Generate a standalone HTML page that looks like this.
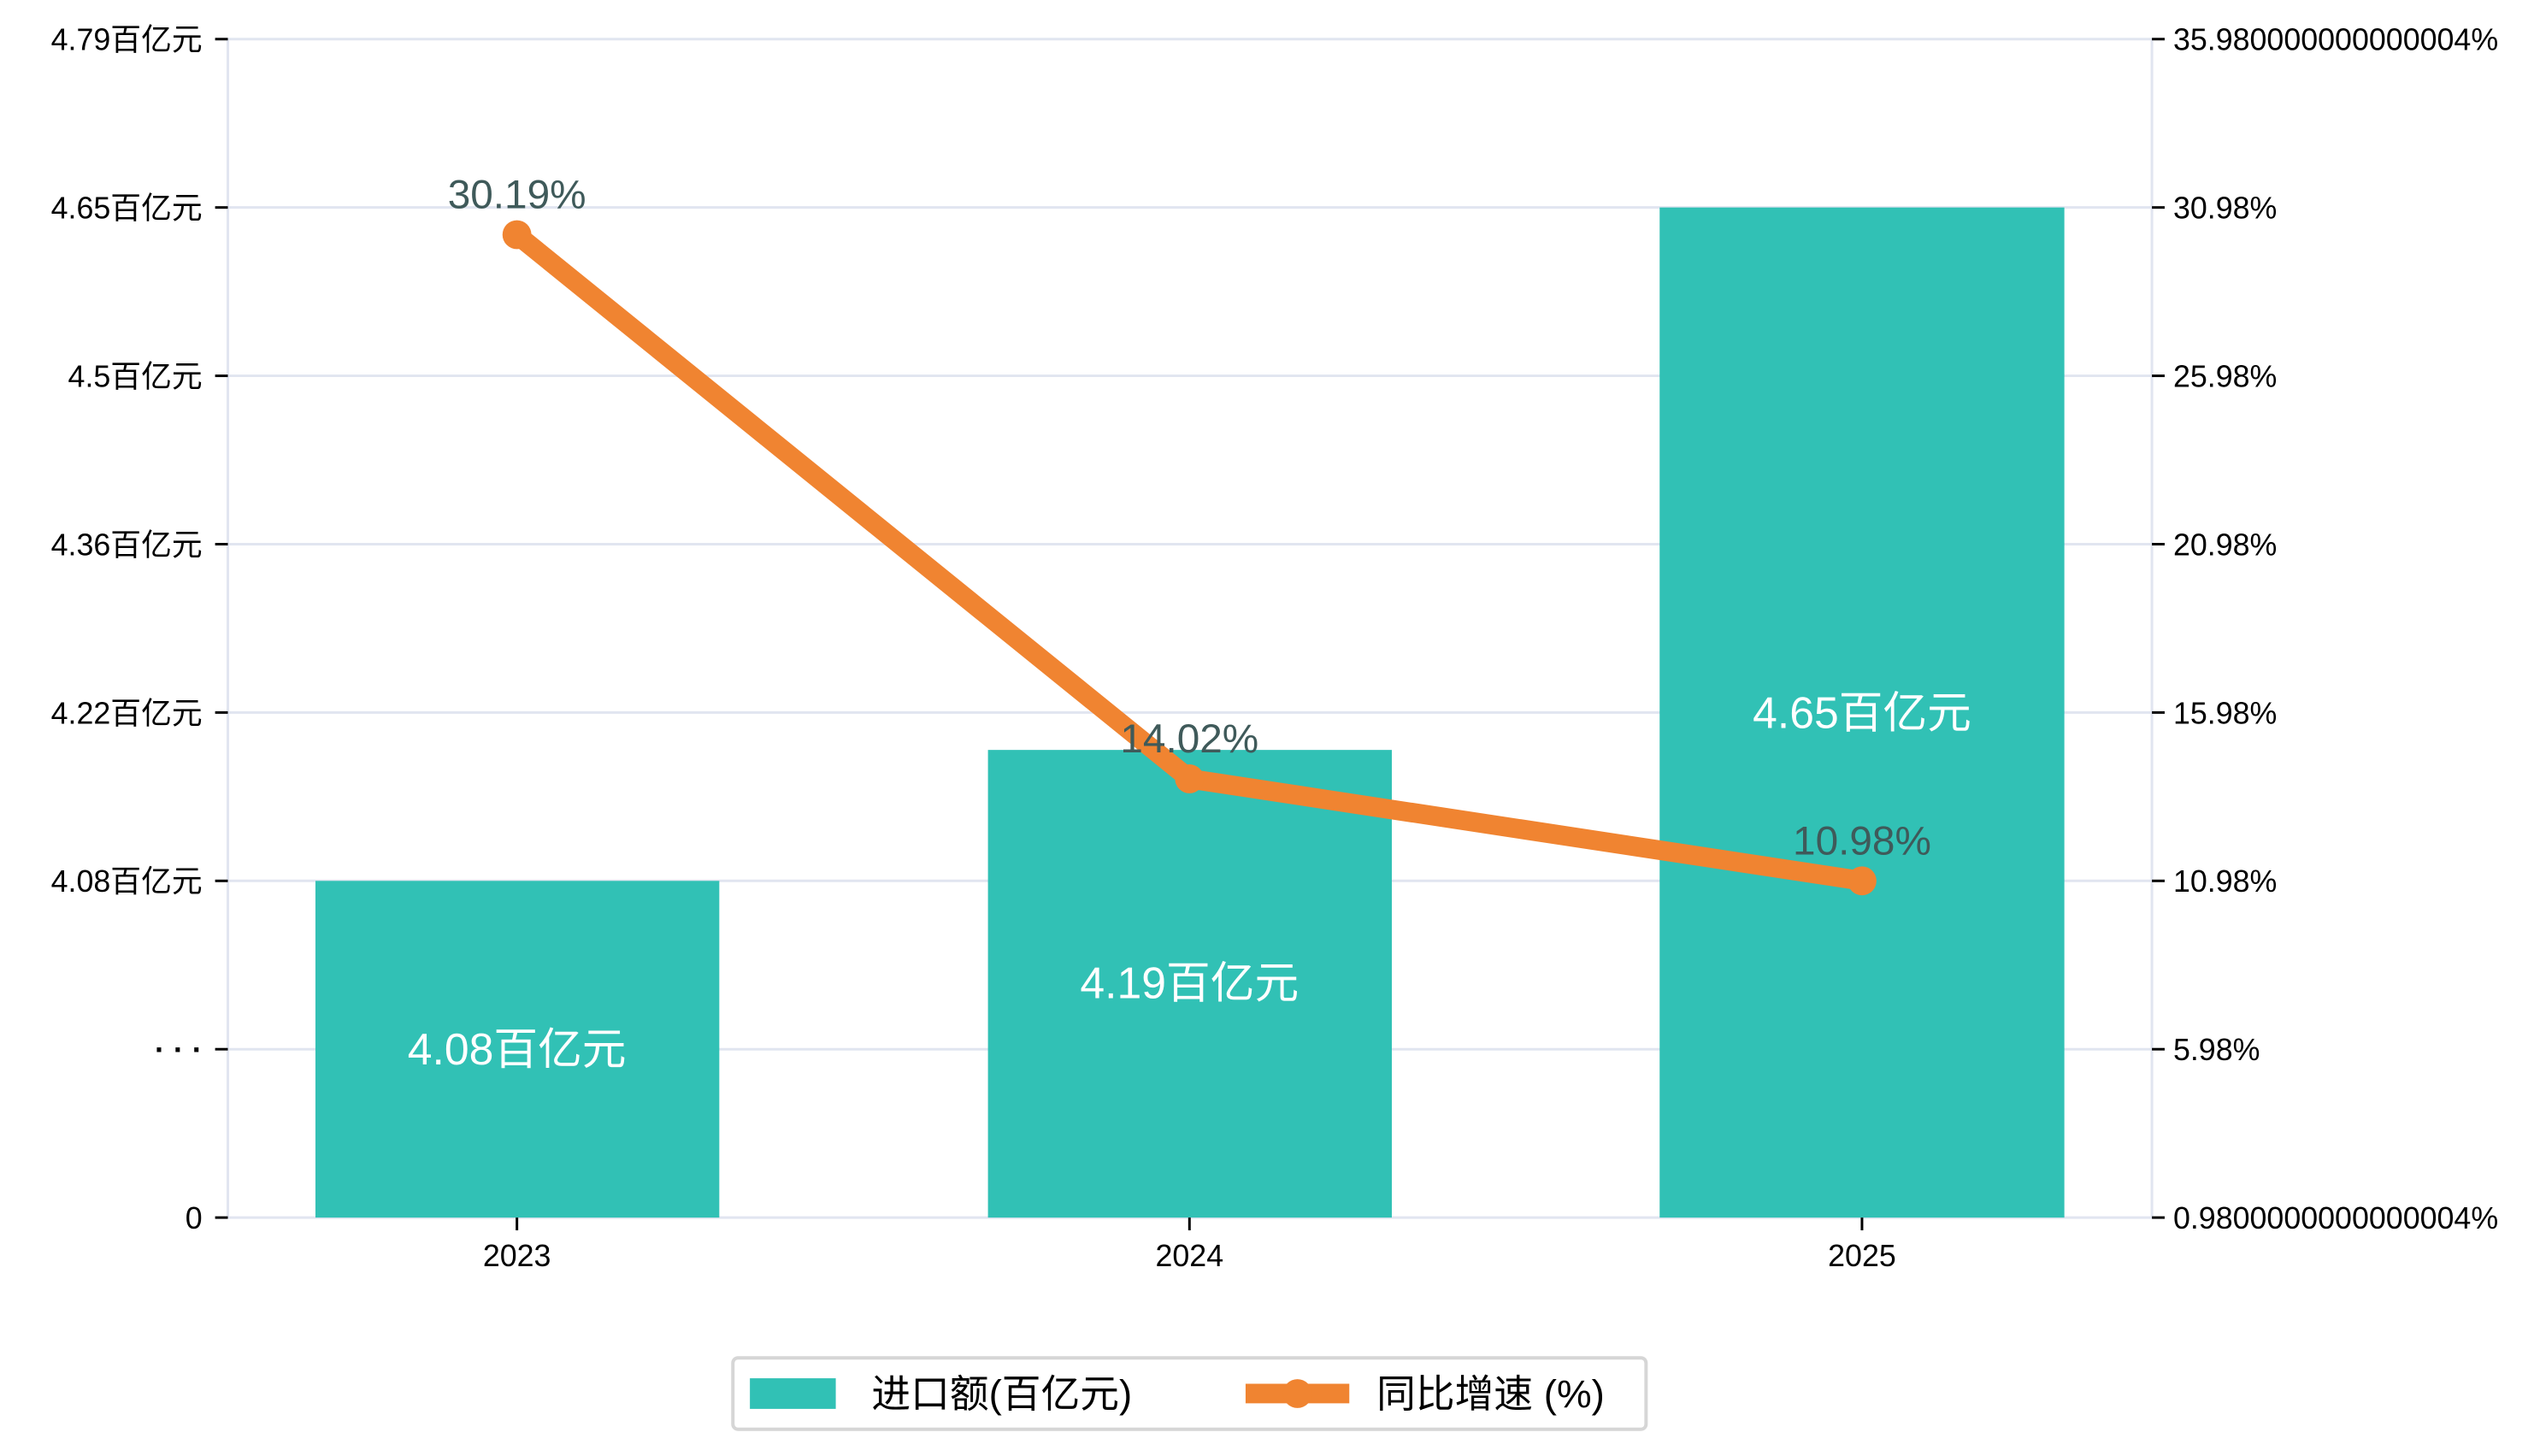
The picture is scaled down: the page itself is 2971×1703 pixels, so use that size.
<!DOCTYPE html>
<html><head><meta charset="utf-8"><style>body{margin:0;background:#fff}svg{display:block}text{font-family:"Liberation Sans","Noto Sans CJK SC",sans-serif}</style></head>
<body>
<svg width="2971" height="1703" viewBox="0 0 2971 1703" xmlns="http://www.w3.org/2000/svg">
<g transform="scale(0.9945)">
<g stroke="#e1e5f0" stroke-width="3">
<line x1="268" y1="46" x2="2531" y2="46"/><line x1="268" y1="244" x2="2531" y2="244"/>
<line x1="268" y1="442" x2="2531" y2="442"/><line x1="268" y1="640" x2="2531" y2="640"/>
<line x1="268" y1="838" x2="2531" y2="838"/><line x1="268" y1="1036" x2="2531" y2="1036"/>
<line x1="268" y1="1234" x2="2531" y2="1234"/><line x1="268" y1="1432" x2="2531" y2="1432"/>
<line x1="268" y1="46" x2="268" y2="1432"/><line x1="2531" y1="46" x2="2531" y2="1432"/>
</g>
<g fill="#31c1b5">
<rect x="371" y="1036" width="475" height="396"/>
<rect x="1162" y="882" width="475" height="550"/>
<rect x="1952" y="244" width="476" height="1188"/>
</g>
<g stroke="#000" stroke-width="3">
<line x1="253" y1="46" x2="268" y2="46"/><line x1="253" y1="244" x2="268" y2="244"/><line x1="253" y1="442" x2="268" y2="442"/><line x1="253" y1="640" x2="268" y2="640"/><line x1="253" y1="838" x2="268" y2="838"/><line x1="253" y1="1036" x2="268" y2="1036"/><line x1="253" y1="1234" x2="268" y2="1234"/><line x1="253" y1="1432" x2="268" y2="1432"/>
<line x1="2531" y1="46" x2="2546" y2="46"/><line x1="2531" y1="244" x2="2546" y2="244"/><line x1="2531" y1="442" x2="2546" y2="442"/><line x1="2531" y1="640" x2="2546" y2="640"/><line x1="2531" y1="838" x2="2546" y2="838"/><line x1="2531" y1="1036" x2="2546" y2="1036"/><line x1="2531" y1="1234" x2="2546" y2="1234"/><line x1="2531" y1="1432" x2="2546" y2="1432"/>
<line x1="608" y1="1432" x2="608" y2="1447"/><line x1="1399" y1="1432" x2="1399" y2="1447"/><line x1="2190" y1="1432" x2="2190" y2="1447"/>
</g>
<g font-size="36" text-anchor="end" fill="#000">
<text x="238" y="59">4.79百亿元</text><text x="238" y="257">4.65百亿元</text><text x="238" y="455">4.5百亿元</text><text x="238" y="653">4.36百亿元</text><text x="238" y="851">4.22百亿元</text><text x="238" y="1049">4.08百亿元</text><text x="238" y="1247" font-weight="bold">· · ·</text><text x="238" y="1445">0</text>
</g>
<g font-size="36" fill="#000">
<text x="2556" y="59">35.980000000000004%</text><text x="2556" y="257">30.98%</text><text x="2556" y="455">25.98%</text><text x="2556" y="653">20.98%</text><text x="2556" y="851">15.98%</text><text x="2556" y="1049">10.98%</text><text x="2556" y="1247">5.98%</text><text x="2556" y="1445">0.9800000000000004%</text>
</g>
<g font-size="36" text-anchor="middle" fill="#000">
<text x="608" y="1489">2023</text><text x="1399" y="1489">2024</text><text x="2190" y="1489">2025</text>
</g>
<g font-size="52" text-anchor="middle" fill="#fff">
<text x="608" y="1252">4.08百亿元</text><text x="1399" y="1174">4.19百亿元</text><text x="2190" y="856">4.65百亿元</text>
</g>
<polyline points="608,276 1399,916 2190,1036" fill="none" stroke="#f08431" stroke-width="23" stroke-linejoin="round"/>
<g fill="#f08431"><circle cx="608" cy="276" r="17"/><circle cx="1399" cy="916" r="17"/><circle cx="2190" cy="1036" r="17"/></g>
<g font-size="48" text-anchor="middle" fill="#3f5a5a">
<text x="608" y="245">30.19%</text><text x="1399" y="885">14.02%</text><text x="2190" y="1005">10.98%</text>
</g>
<rect x="862" y="1597" width="1074" height="84" rx="6" fill="#fff" stroke="#d6d6d6" stroke-width="4"/>
<rect x="882" y="1621" width="101" height="36" fill="#31c1b5"/>
<text x="1025" y="1655" font-size="46" fill="#000">进口额(百亿元)</text>
<line x1="1465" y1="1639" x2="1587" y2="1639" stroke="#f08431" stroke-width="23"/>
<circle cx="1526" cy="1639" r="17" fill="#f08431"/>
<text x="1619" y="1655" font-size="46" fill="#000">同比增速 (%)</text>
</g>
</svg>
</body></html>
